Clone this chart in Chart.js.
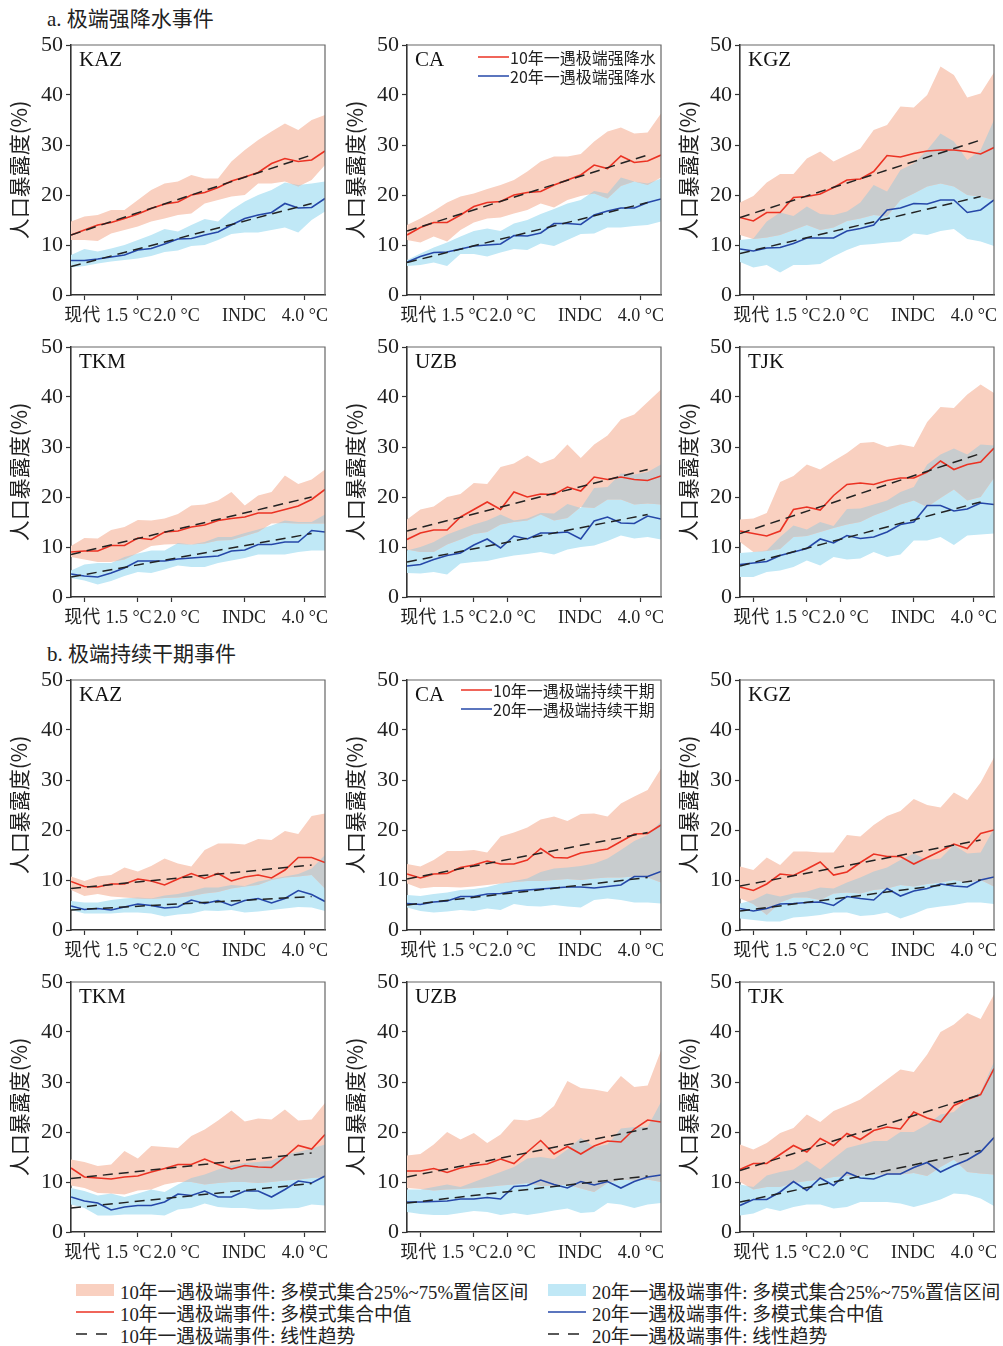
<!DOCTYPE html>
<html>
<head>
<meta charset="utf-8">
<script src="https://cdn.jsdelivr.net/npm/chart.js@4.4.1/dist/chart.umd.min.js"></script>
<style>
  body { margin: 0; background: #fff; width: 1003px; height: 1346px; position: relative; overflow: hidden;
         font-family: 'Liberation Serif', 'Noto Sans CJK SC', serif; color: #222; }
  .sec { position: absolute; left: 47px; font-size: 21px; line-height: 24px; }
  .panel { position: absolute; }
  .leg { position: absolute; height: 22px; display: flex; align-items: center; font-size: 18.8px; white-space: nowrap; }
  .sw { width: 38px; margin-right: 6px; flex: none; }
</style>
</head>
<body>
<div class="sec" style="top:7px">a. 极端强降水事件</div>
<div class="sec" style="top:642px">b. 极端持续干期事件</div>

<div class="leg" style="left:76px;top:1279px"><div class="sw" style="height:12px;background:#f9d0c0"></div>10年一遇极端事件: 多模式集合25%~75%置信区间</div>
<div class="leg" style="left:76px;top:1301px"><svg class="sw" width="38" height="4"><line x1="0" y1="2" x2="38" y2="2" stroke="#eb3223" stroke-width="1.6"/></svg>10年一遇极端事件: 多模式集合中值</div>
<div class="leg" style="left:76px;top:1323px"><svg class="sw" width="38" height="4"><line x1="0" y1="2" x2="38" y2="2" stroke="#222" stroke-width="1.6" stroke-dasharray="11,9"/></svg>10年一遇极端事件: 线性趋势</div>
<div class="leg" style="left:548px;top:1279px"><div class="sw" style="height:12px;background:#c0e8f6"></div>20年一遇极端事件: 多模式集合25%~75%置信区间</div>
<div class="leg" style="left:548px;top:1301px"><svg class="sw" width="38" height="4"><line x1="0" y1="2" x2="38" y2="2" stroke="#2547a8" stroke-width="1.6"/></svg>20年一遇极端事件: 多模式集合中值</div>
<div class="leg" style="left:548px;top:1323px"><svg class="sw" width="38" height="4"><line x1="0" y1="2" x2="38" y2="2" stroke="#222" stroke-width="1.6" stroke-dasharray="11,9"/></svg>20年一遇极端事件: 线性趋势</div>

<script>
// x positions (warming level) of the 20 ensemble points, and the labelled ticks
const xVals = [0.5, 0.7, 0.9, 1.1, 1.3, 1.5, 1.7, 1.9, 2.1, 2.3, 2.5, 2.7, 2.9, 3.1, 3.3, 3.5, 3.7, 3.9, 4.1, 4.3];
const trendX = [0.5, 4.1];
const tickVals = [0.7, 1.5, 2.0, 3.1, 4.0];
const tickNames = ['现代', '1.5 °C', '2.0 °C', 'INDC', '4.0 °C'];
const tickLabelAt = [0.67, 1.36, 2.08, 3.09, 4.0];   // label centres are nudged off the tick marks in the original
const yTicks = [0, 10, 20, 30, 40, 50];
const yMinor = [0, 5, 10, 15, 20, 25, 30, 35, 40, 45, 50];

// ---- a. extreme heavy precipitation ----
const kazA_redMed = [12, 13, 14, 14.5, 15.3, 16.2, 17.3, 18.2, 18.6, 20, 20.5, 21.5, 22.8, 23.6, 24.5, 26.3, 27.3, 26.7, 27, 28.8];
const kazA_redHi = [14.7, 15.7, 16, 17, 17, 19, 21, 22.3, 22.7, 24, 23.3, 23.3, 26.7, 29, 31, 32.7, 34.3, 33, 35, 36];
const kazA_redLo = [11, 11, 10.8, 12.3, 13, 13.7, 14.7, 15.3, 16, 16.3, 18.3, 19, 19.7, 20, 22.3, 22.3, 22.7, 21.7, 23, 26];
const kazA_blueMed = [6.9, 6.9, 7.2, 7.6, 8, 9, 9.3, 10.2, 11.2, 11.3, 12, 12.6, 14, 15.3, 16, 16.5, 18.3, 17.4, 17.5, 19.3];
const kazA_blueHi = [8, 9.2, 8.7, 9.3, 10, 11, 12, 13.2, 12.7, 14, 15.2, 14.7, 17, 18.7, 20, 21, 22.5, 22, 22.3, 22.7];
const kazA_blueLo = [5.5, 5.8, 6.3, 6.7, 7, 7.3, 7.8, 8.6, 8.9, 9.8, 10, 11, 12.2, 12.5, 12.5, 13, 13.5, 12.5, 15, 16.7];
const kazA_trend10 = [12, 28];
const kazA_trend20 = [5.7, 18.3];

const caA_redMed = [12, 13.5, 14.5, 14.5, 16, 17.7, 18.5, 18.7, 20, 20.5, 20.7, 22, 23, 24, 26, 25.3, 27.8, 26.5, 26.8, 28];
const caA_redHi = [14, 15.3, 16.8, 18.5, 19.7, 20.3, 21.2, 22, 23, 24.7, 26.7, 27.7, 27.7, 28.2, 30.7, 32.7, 33.5, 32.3, 32.5, 36.3];
const caA_redLo = [11, 10.5, 11.7, 10.7, 13, 14.5, 15.3, 15.5, 16.3, 17, 18.3, 17.5, 19, 19.8, 20.3, 19.3, 21.8, 22.7, 22, 23.5];
const caA_blueMed = [6.6, 7.7, 8.5, 8.6, 9.2, 9.8, 10, 10.2, 11.9, 11.8, 12.4, 14.3, 14.3, 14.1, 16, 16.8, 17.4, 17.4, 18.5, 19.2];
const caA_blueHi = [7, 8.3, 9.5, 10.5, 11.7, 12.8, 13.3, 12.8, 14.3, 15, 16.2, 17.2, 18.3, 19, 20.8, 20.3, 23.5, 22.7, 22.3, 23.3];
const caA_blueLo = [5.8, 6, 6.5, 5.8, 8.2, 8.2, 7.7, 8.5, 9.2, 9, 10.3, 9.8, 11, 12.2, 12.3, 13.5, 13.5, 13.8, 14, 14.7];
const caA_trend10 = [12.8, 28];
const caA_trend20 = [6.5, 18.5];

const kgzA_redMed = [15.5, 14.8, 16.5, 16.5, 19.5, 19.7, 20.2, 21.5, 23, 23.2, 24.7, 27.9, 27.6, 28.3, 28.8, 29, 29, 28.7, 28.2, 29.5];
const kgzA_redHi = [18.5, 19.8, 22.5, 24.2, 24.2, 27.3, 28.7, 26.7, 28, 29.3, 33, 34, 37.7, 37.5, 40, 45.7, 44, 39.5, 40.3, 44.5];
const kgzA_redLo = [12, 11.2, 11.5, 12, 13, 14, 13, 13.5, 14.8, 15.3, 16, 15.7, 19, 20.3, 21.7, 22.3, 21.7, 20, 19.7, 19];
const kgzA_blueMed = [9.2, 8.8, 9.4, 9.5, 10.3, 11.4, 11.4, 11.4, 12.8, 13.3, 14, 17, 17.4, 18.3, 18.2, 19, 19, 16.5, 17, 19];
const kgzA_blueHi = [11, 11.3, 14.7, 16.5, 15.8, 17.7, 16.2, 16, 16.7, 18.5, 22, 20.7, 25, 26.3, 29, 32.3, 30.7, 27, 29, 35];
const kgzA_blueLo = [6.6, 5.5, 6, 4.5, 6, 6, 6.2, 7.7, 9, 10, 10.2, 10.5, 10.7, 12.3, 12, 12.8, 13.2, 11.2, 10.7, 9.8];
const kgzA_trend10 = [15.5, 31];
const kgzA_trend20 = [8.3, 19.7];

const tkmA_redMed = [9, 9.2, 9.2, 10.3, 10.3, 11.8, 11.5, 13, 13.2, 14, 14.4, 15.3, 15.7, 16, 16.8, 16.8, 17.5, 18.2, 19.5, 21.5];
const tkmA_redHi = [10.2, 11.8, 11.7, 13.4, 14, 15.4, 15.3, 15.7, 16.6, 18.3, 18.5, 19.3, 21, 18.3, 20.3, 21, 24.3, 22.6, 23.5, 25.5];
const tkmA_redLo = [8, 7.5, 7, 7, 7.5, 8.8, 10.2, 10.5, 10.6, 10.5, 10.7, 11.3, 11.4, 12.2, 13, 14.7, 14.8, 14.7, 14.7, 14.7];
const tkmA_blueMed = [4.6, 4.2, 4.0, 4.8, 5.8, 7.2, 7.2, 7.2, 7.6, 7.8, 8.0, 8.2, 9.2, 9.4, 10.5, 10.5, 11, 11, 13.3, 13];
const tkmA_blueHi = [5.3, 6.5, 6.8, 6.8, 8, 8.7, 9.3, 9.3, 10.8, 10.5, 11, 12, 12, 12.8, 13.5, 14.3, 15.3, 15, 15, 16.5];
const tkmA_blueLo = [3.8, 3.3, 2.5, 3.2, 4.2, 5, 4.8, 5.5, 6.3, 6, 6, 6.8, 7.3, 7.8, 8.5, 8.5, 8.5, 9, 9.3, 9.3];
const tkmA_trend10 = [8.5, 20];
const tkmA_trend20 = [4, 12.7];

const uzbA_redMed = [11.5, 12.8, 13.4, 13.4, 16, 17.5, 19, 17.5, 21, 20, 20.6, 20.5, 22, 21.2, 24, 23.5, 24, 23.5, 23.3, 24.2];
const uzbA_redHi = [15.5, 17.5, 18.1, 20, 20.6, 22.8, 22.6, 26, 26.7, 28.3, 26.7, 27.7, 30.5, 27.8, 30.5, 32.3, 35.5, 36.5, 39, 41.5];
const uzbA_redLo = [9.5, 9, 9, 10.5, 11.5, 12.6, 13, 14.5, 15, 15.3, 16.5, 15.3, 15.8, 18, 17.8, 19.5, 19.5, 18.5, 18.7, 18.5];
const uzbA_blueMed = [6.2, 6.5, 7.5, 8.3, 8.8, 10.4, 11.6, 9.8, 12.2, 11.6, 12.8, 12.8, 13, 11.6, 15.2, 16, 14.8, 14.7, 16.2, 15.6];
const uzbA_blueHi = [9.3, 10, 11, 12.5, 13.5, 14.5, 15.3, 16.5, 15.3, 15.7, 16.8, 16.7, 18.6, 17.8, 21.8, 22, 24.7, 24.5, 25, 26.5];
const uzbA_blueLo = [4.8, 4.7, 5, 4.5, 6.7, 7, 7.2, 7.8, 8.3, 8.6, 9, 8.5, 9.5, 10, 10.3, 11.2, 12.3, 11.7, 12, 11.5];
const uzbA_trend10 = [13.2, 25.5];
const uzbA_trend20 = [7, 16.5];

const tjkA_redMed = [13.2, 12.7, 12.2, 13.2, 17.5, 18, 17.4, 20.3, 22.5, 22.8, 22.5, 23.3, 23.8, 23.8, 25, 27.2, 25.5, 26.5, 27, 29.8];
const tjkA_redHi = [15.5, 15.7, 16.8, 23, 24.2, 26.5, 25.5, 27.2, 28.8, 30.8, 31, 30, 30.5, 30, 35, 38, 37.8, 40.5, 42.5, 40.8];
const tjkA_redLo = [11, 9, 9.2, 9.6, 12, 12.2, 13, 13.8, 14.5, 15, 16.3, 17.3, 18.5, 19.3, 18, 19.8, 21.5, 19.3, 20, 23.8];
const tjkA_blueMed = [6.5, 6.8, 7.1, 8.3, 9, 9.7, 11.6, 10.8, 12.3, 11.7, 12, 13, 14.5, 15, 18.3, 18.3, 17.2, 17.6, 18.8, 18.5];
const tjkA_blueHi = [8.8, 9, 9.3, 12, 14.3, 13.5, 15, 14.2, 17.6, 17.7, 18.5, 19.3, 21, 22, 26.5, 28.5, 29.7, 28.5, 30.5, 30.3];
const tjkA_blueLo = [4, 4, 5, 5.3, 6, 7.3, 6.3, 8, 7.5, 7.7, 9, 8, 8.5, 11.3, 11.3, 12, 10.4, 12.3, 12.5, 12.7];
const tjkA_trend10 = [12.7, 28.7];
const tjkA_trend20 = [6.2, 19];

// ---- b. extreme consecutive dry days ----
const kazB_redMed = [9.7, 8.7, 8.6, 9.2, 9.2, 10.2, 9.8, 9.0, 10.2, 11.3, 10.3, 11.3, 9.8, 10.6, 11, 10.4, 12, 14.5, 14.5, 13.5];
const kazB_redHi = [10.7, 9.8, 10.7, 11, 12.5, 11.7, 12.8, 14.3, 13.3, 12.7, 16, 17.3, 17.3, 17.1, 18.2, 18, 19.8, 19.2, 22.8, 23.3];
const kazB_redLo = [8, 6.8, 7.2, 6.7, 6.5, 6.3, 6.2, 6.4, 6.5, 6.8, 7.3, 7.6, 8.3, 8.7, 9, 10, 10.5, 10.7, 11, 8.3];
const kazB_blueMed = [4.8, 4.1, 4.3, 4.0, 4.6, 5.2, 4.9, 4.4, 4.6, 6.0, 5.3, 5.9, 4.9, 5.9, 6.3, 5.4, 6.3, 7.9, 7.1, 5.7];
const kazB_blueHi = [5.8, 5.5, 5.5, 6, 6.3, 6.5, 6.3, 6.9, 7.2, 7.8, 8.5, 8.5, 9, 8.8, 9.7, 10.2, 10.7, 11.2, 12.3, 15];
const kazB_blueLo = [4, 3.3, 3.3, 3.3, 3.5, 3.5, 3.3, 2.7, 3.1, 3.3, 3.9, 3.8, 4, 3.5, 3.7, 4, 4.3, 4.6, 4.5, 3.8];
const kazB_trend10 = [8.3, 13];
const kazB_trend20 = [4, 6.7];

const caB_redMed = [11.2, 10.4, 11.2, 11.3, 12.5, 13, 13.8, 13.2, 13.2, 14, 16.3, 14.5, 14.4, 15.4, 15.8, 16.2, 17.7, 19.2, 19.3, 21];
const caB_redHi = [13.2, 12.7, 14, 15.8, 15.8, 16, 15.5, 18.7, 19.5, 20.5, 22.1, 22.7, 21.8, 23.2, 23.3, 22.7, 25.3, 26.7, 28, 32.3];
const caB_redLo = [9.3, 8.3, 8.6, 8.6, 8.5, 8.7, 9, 9.3, 9.6, 9.8, 9.8, 10, 10.2, 10, 10.3, 10.5, 10.5, 10.7, 10.5, 9.5];
const caB_blueMed = [5.3, 5.1, 5.6, 5.8, 6.7, 6.7, 7.2, 7.3, 7.8, 8, 8.2, 8.4, 8.6, 8.6, 8.4, 8.7, 9, 10.7, 10.7, 11.7];
const caB_blueHi = [7, 6.8, 7.2, 7.5, 8, 8.2, 8.6, 9.3, 9.8, 10.3, 11.6, 12.3, 12.5, 12.8, 13.3, 14.3, 16, 17.8, 19, 21.7];
const caB_blueLo = [4.5, 3.8, 3.5, 3.7, 4, 3.8, 4.3, 4, 5.2, 4.8, 4.7, 5, 4.7, 4.5, 6, 6.3, 6, 5.5, 5.5, 5.3];
const caB_trend10 = [10.2, 19.5];
const caB_trend20 = [5, 10.5];

const kgzB_redMed = [8.6, 7.9, 9.2, 11.2, 10.9, 12.2, 13.6, 11, 11.6, 13.5, 15.2, 14.7, 14.7, 13.2, 14.5, 15.8, 17.2, 16.3, 19.3, 20];
const kgzB_redHi = [12.7, 12, 14.5, 13, 15.7, 15.7, 15.5, 15.5, 19, 18.7, 21, 22.8, 23.8, 26.2, 25, 24.5, 27.5, 26, 29.5, 34.5];
const kgzB_redLo = [6.3, 5.2, 3, 5.5, 6.5, 6.5, 6, 7.3, 7.5, 7.3, 8, 8.3, 9, 8.7, 9.2, 9.5, 10, 9.5, 10, 8.7];
const kgzB_blueMed = [4.3, 3.8, 4.3, 5.2, 5.3, 5.5, 5.6, 4.9, 6.7, 6.3, 6, 8.3, 6.8, 7.8, 8.3, 9.2, 8.8, 8.6, 10, 10.6];
const kgzB_blueHi = [5.3, 6, 7.3, 6.7, 7.3, 7.7, 8.5, 8.3, 9.5, 10.5, 11.7, 12.5, 14, 15.3, 14, 14.3, 17, 15.3, 15.5, 20.3];
const kgzB_blueLo = [2.3, 2, 1.7, 1.7, 2.5, 2.7, 3, 3.5, 3.5, 2.8, 3, 3.5, 2.3, 3.2, 4.3, 4.7, 5, 5.5, 5.5, 5.2];
const kgzB_trend10 = [8.8, 18];
const kgzB_trend20 = [3.8, 10];

const tkmB_redMed = [12.8, 11, 10.8, 10.6, 11, 11.2, 12, 12.7, 13.5, 13.5, 14.6, 13.5, 12.6, 13.3, 13, 12.9, 15, 17.3, 16.6, 19.5];
const tkmB_redHi = [14.5, 14, 13.2, 13.5, 16.2, 14.7, 17.2, 17, 16.8, 19.2, 20.5, 22.3, 24.3, 22.1, 22.7, 22.5, 24.5, 22.3, 22.5, 25.8];
const tkmB_redLo = [9.3, 8.8, 7.8, 7.7, 7.5, 8.3, 8.5, 9.5, 10, 10, 9.5, 9.8, 10, 10, 9.8, 10, 10.3, 10.5, 10.8, 11];
const tkmB_blueMed = [7, 6.2, 5.8, 4.4, 5, 5.3, 5.3, 6, 7.6, 7.3, 8.2, 7, 7, 8.2, 8.2, 7, 8.5, 10.2, 9.8, 11.2];
const tkmB_blueHi = [8.8, 8.2, 7.3, 7.7, 7, 7.7, 8.5, 8, 9.5, 10.8, 11.5, 12.5, 13.3, 13.8, 14, 14.3, 15.5, 16, 16.7, 17.5];
const tkmB_blueLo = [5.5, 4.8, 3.3, 3.3, 3.5, 3.5, 3.5, 3.3, 4.5, 4.8, 5.7, 5, 4.8, 4.8, 4.5, 4.5, 4.7, 4.8, 5.5, 5.3];
const tkmB_trend10 = [10.7, 15.8];
const tkmB_trend20 = [4.8, 9.7];

const uzbB_redMed = [12.2, 12.2, 12.7, 11.9, 12.8, 13.3, 13.6, 14.6, 13.7, 16, 18.3, 15.6, 17.1, 15.6, 17.2, 18.2, 18, 20.6, 22.4, 22];
const uzbB_redHi = [15.3, 15.6, 17.5, 20, 18.5, 19.8, 17.8, 19.5, 22.5, 22.3, 23, 25.2, 30.2, 28.8, 28.5, 28, 31.2, 29, 29.3, 36.3];
const uzbB_redLo = [8.8, 8.6, 8.3, 8.5, 8.6, 8.8, 9, 9.3, 9.5, 9.8, 9.2, 9.3, 9.5, 8.7, 8, 9.8, 10.5, 10.3, 10.5, 10];
const uzbB_blueMed = [6, 6, 6.1, 6.2, 6.6, 6.6, 6.9, 6.6, 9.1, 9.3, 10.4, 9.5, 8.8, 10.1, 9.4, 10.1, 8.8, 10.1, 11, 11.4];
const uzbB_blueHi = [8.5, 8.5, 9, 9.5, 9, 10, 11, 12, 13, 14.7, 15, 14.6, 16.5, 18.8, 17, 17.5, 20.7, 21, 21, 26];
const uzbB_blueLo = [4, 3.6, 3.4, 3.4, 3.8, 4.2, 4, 3.4, 3.8, 3.4, 3.8, 4.3, 4.7, 3.8, 4, 5.8, 5.5, 4.8, 5.5, 5.8];
const uzbB_trend10 = [11, 20.7];
const uzbB_trend20 = [5.8, 11.2];

const tjkB_redMed = [12.5, 13.7, 13.7, 15.5, 17.3, 16, 18.7, 17.3, 19.7, 18.5, 20.3, 21, 20.6, 24, 22.8, 22, 25.3, 26.5, 27.5, 32.7];
const tjkB_redHi = [17.5, 16.5, 17.8, 19.8, 20.8, 23.5, 22, 24.2, 25.3, 26.5, 28.5, 30.5, 32.5, 32, 35.5, 40, 41.5, 43.8, 42.6, 47.5];
const tjkB_redLo = [10, 8.5, 9, 9, 9.8, 10.2, 10.5, 11, 11.2, 11.3, 11.5, 11.5, 11.5, 11.8, 11.2, 13, 14.5, 12, 11.7, 11.5];
const tjkB_blueMed = [5.3, 6.5, 6.5, 8, 10.1, 8.3, 10.8, 9.3, 11.9, 10.8, 10.6, 11.6, 11.6, 12.9, 13.9, 12, 13.3, 14.4, 16, 18.9];
const tjkB_blueHi = [9.5, 9, 11.3, 12, 12.5, 14.3, 12.5, 14.7, 16.8, 17.5, 18.2, 18.2, 20, 20, 21.5, 23.5, 24, 26.5, 28, 34];
const tjkB_blueLo = [3.3, 3.7, 4.8, 4.2, 5, 5.5, 5.5, 4.7, 5, 6, 6, 6, 5.7, 5, 5.7, 6.5, 7.7, 7.5, 6.7, 5.2];
const tjkB_trend10 = [12.3, 27.5];
const tjkB_trend20 = [6, 16.3];

// colours
const SALMON = '#f9d0c0';
const SKY = '#c0e8f6';
const GREY = '#c8ccce';
const RED = '#eb3223';
const BLUE = '#2547a8';
const DASH = '#222';

const SERIF = "'Liberation Serif', 'Noto Sans CJK SC', serif";
const CJK = "'Noto Sans CJK SC', sans-serif";

// plot-area geometry on the page
const colLeft = [71, 407, 740];
const rowTop = [45, 347, 680, 982];
const PW = 254, PH = 250;
const AXW = 70, AXH = 40, PADT = 14, PADR = 10;

const panels = [
  { name: 'KAZ', col: 0, row: 0, rm: kazA_redMed, rh: kazA_redHi, rl: kazA_redLo, bm: kazA_blueMed, bh: kazA_blueHi, bl: kazA_blueLo, t10: kazA_trend10, t20: kazA_trend20 },
  { name: 'CA', col: 1, row: 0, rm: caA_redMed, rh: caA_redHi, rl: caA_redLo, bm: caA_blueMed, bh: caA_blueHi, bl: caA_blueLo, t10: caA_trend10, t20: caA_trend20,
    legend: ['10年一遇极端强降水', '20年一遇极端强降水'], legX: 71, legY: 12 },
  { name: 'KGZ', col: 2, row: 0, rm: kgzA_redMed, rh: kgzA_redHi, rl: kgzA_redLo, bm: kgzA_blueMed, bh: kgzA_blueHi, bl: kgzA_blueLo, t10: kgzA_trend10, t20: kgzA_trend20 },
  { name: 'TKM', col: 0, row: 1, rm: tkmA_redMed, rh: tkmA_redHi, rl: tkmA_redLo, bm: tkmA_blueMed, bh: tkmA_blueHi, bl: tkmA_blueLo, t10: tkmA_trend10, t20: tkmA_trend20 },
  { name: 'UZB', col: 1, row: 1, rm: uzbA_redMed, rh: uzbA_redHi, rl: uzbA_redLo, bm: uzbA_blueMed, bh: uzbA_blueHi, bl: uzbA_blueLo, t10: uzbA_trend10, t20: uzbA_trend20 },
  { name: 'TJK', col: 2, row: 1, rm: tjkA_redMed, rh: tjkA_redHi, rl: tjkA_redLo, bm: tjkA_blueMed, bh: tjkA_blueHi, bl: tjkA_blueLo, t10: tjkA_trend10, t20: tjkA_trend20 },
  { name: 'KAZ', col: 0, row: 2, rm: kazB_redMed, rh: kazB_redHi, rl: kazB_redLo, bm: kazB_blueMed, bh: kazB_blueHi, bl: kazB_blueLo, t10: kazB_trend10, t20: kazB_trend20 },
  { name: 'CA', col: 1, row: 2, rm: caB_redMed, rh: caB_redHi, rl: caB_redLo, bm: caB_blueMed, bh: caB_blueHi, bl: caB_blueLo, t10: caB_trend10, t20: caB_trend20,
    legend: ['10年一遇极端持续干期', '20年一遇极端持续干期'], legX: 54, legY: 10 },
  { name: 'KGZ', col: 2, row: 2, rm: kgzB_redMed, rh: kgzB_redHi, rl: kgzB_redLo, bm: kgzB_blueMed, bh: kgzB_blueHi, bl: kgzB_blueLo, t10: kgzB_trend10, t20: kgzB_trend20 },
  { name: 'TKM', col: 0, row: 3, rm: tkmB_redMed, rh: tkmB_redHi, rl: tkmB_redLo, bm: tkmB_blueMed, bh: tkmB_blueHi, bl: tkmB_blueLo, t10: tkmB_trend10, t20: tkmB_trend20 },
  { name: 'UZB', col: 1, row: 3, rm: uzbB_redMed, rh: uzbB_redHi, rl: uzbB_redLo, bm: uzbB_blueMed, bh: uzbB_blueHi, bl: uzbB_blueLo, t10: uzbB_trend10, t20: uzbB_trend20 },
  { name: 'TJK', col: 2, row: 3, rm: tjkB_redMed, rh: tjkB_redHi, rl: tjkB_redLo, bm: tjkB_blueMed, bh: tjkB_blueHi, bl: tjkB_blueLo, t10: tjkB_trend10, t20: tjkB_trend20 },
];

function pts(arr) { return arr.map((v, i) => ({ x: xVals[i], y: v })); }
function trendPts(t) { return [{ x: trendX[0], y: t[0] }, { x: trendX[1], y: t[1] }]; }

function makePanel(p) {
  const wrap = document.createElement('div');
  wrap.className = 'panel';
  const w = AXW + PW + PADR, h = PADT + PH + AXH;
  wrap.style.left = (colLeft[p.col] - AXW) + 'px';
  wrap.style.top = (rowTop[p.row] - PADT) + 'px';
  const cv = document.createElement('canvas');
  cv.width = w; cv.height = h;
  wrap.appendChild(cv);
  document.body.appendChild(wrap);

  // band path (upper edge forward, lower edge back) in pixel space
  function bandPath(ctx, chart, hi, lo) {
    const xs = chart.scales.x, ys = chart.scales.y;
    ctx.beginPath();
    hi.forEach((v, i) => {
      const px = xs.getPixelForValue(xVals[i]), py = ys.getPixelForValue(v);
      if (i === 0) ctx.moveTo(px, py); else ctx.lineTo(px, py);
    });
    for (let i = lo.length - 1; i >= 0; i--) ctx.lineTo(xs.getPixelForValue(xVals[i]), ys.getPixelForValue(lo[i]));
    ctx.closePath();
  }

  const decor = {
    id: 'decor',
    // grey where the two 25-75% bands overlap, drawn right after the last band
    afterDatasetDraw(chart, args) {
      if (args.index !== 0) return;
      const ctx = chart.ctx, a = chart.chartArea;
      ctx.save();
      ctx.beginPath();
      ctx.rect(a.left, a.top, a.right - a.left, a.bottom - a.top);
      ctx.clip();
      bandPath(ctx, chart, p.rh, p.rl);
      ctx.clip();
      bandPath(ctx, chart, p.bh, p.bl);
      ctx.fillStyle = GREY;
      ctx.fill();
      ctx.restore();
    },
    afterDraw(chart) {
      const ctx = chart.ctx, a = chart.chartArea;
      ctx.save();
      // top and right frame
      ctx.strokeStyle = '#666';
      ctx.lineWidth = 1.2;
      ctx.beginPath();
      ctx.moveTo(a.left, a.top); ctx.lineTo(a.right, a.top); ctx.lineTo(a.right, a.bottom);
      ctx.stroke();
      // x labels
      ctx.fillStyle = '#222';
      ctx.font = '18px ' + SERIF;
      ctx.textAlign = 'center';
      ctx.textBaseline = 'middle';
      tickNames.forEach((t, i) => ctx.fillText(t, chart.scales.x.getPixelForValue(tickLabelAt[i]), a.bottom + 21));
      // panel name
      ctx.fillStyle = '#111';
      ctx.font = '21px ' + SERIF;
      ctx.textAlign = 'left';
      ctx.textBaseline = 'alphabetic';
      ctx.fillText(p.name, a.left + 8, a.top + 21);
      // inner legend
      if (p.legend) {
        const cols = [RED, BLUE];
        ctx.font = '16px ' + CJK;
        ctx.textBaseline = 'middle';
        p.legend.forEach((txt, i) => {
          const y = a.top + p.legY + i * 19;
          ctx.strokeStyle = cols[i];
          ctx.lineWidth = 1.5;
          ctx.beginPath();
          ctx.moveTo(a.left + p.legX, y); ctx.lineTo(a.left + p.legX + 31, y);
          ctx.stroke();
          ctx.fillStyle = '#222';
          ctx.fillText(txt, a.left + p.legX + 32, y + 1);
        });
      }
      ctx.restore();
    }
  };

  const line = (data, color, extra) => Object.assign({
    data: data, borderColor: color, borderWidth: 1.6, pointRadius: 0, tension: 0, fill: false
  }, extra || {});

  new Chart(cv, {
    type: 'line',
    data: {
      datasets: [
        line(pts(p.rl), 'rgba(0,0,0,0)', { borderWidth: 0, order: 3 }),
        line(pts(p.rh), 'rgba(0,0,0,0)', { borderWidth: 0, order: 3, fill: { target: 0 }, backgroundColor: SALMON }),
        line(pts(p.bl), 'rgba(0,0,0,0)', { borderWidth: 0, order: 3 }),
        line(pts(p.bh), 'rgba(0,0,0,0)', { borderWidth: 0, order: 3, fill: { target: 2 }, backgroundColor: SKY }),
        line(pts(p.rm), RED, { order: 2 }),
        line(pts(p.bm), BLUE, { order: 2 }),
        line(trendPts(p.t10), DASH, { order: 1, borderDash: [10, 6], borderWidth: 1.5 }),
        line(trendPts(p.t20), DASH, { order: 1, borderDash: [10, 6], borderWidth: 1.5 }),
      ]
    },
    options: {
      responsive: false,
      animation: false,
      events: [],
      layout: { padding: { top: PADT, right: PADR, left: 0, bottom: 0 } },
      plugins: { legend: { display: false }, tooltip: { enabled: false } },
      scales: {
        x: {
          type: 'linear', min: 0.5, max: 4.3,
          afterBuildTicks: (ax) => { ax.ticks = tickVals.map(v => ({ value: v })); },
          afterFit: (ax) => { ax.height = AXH; ax.paddingLeft = 0; ax.paddingRight = 0; },
          ticks: { autoSkip: false, maxRotation: 0, callback: () => '' },
          grid: { drawOnChartArea: false, tickLength: 5, color: '#333', tickWidth: 1.2 },
          border: { color: '#333', width: 1.6 }
        },
        y: {
          min: 0, max: 50,
          afterBuildTicks: (ax) => { ax.ticks = yMinor.map(v => ({ value: v })); },
          afterFit: (ax) => { ax.width = AXW; ax.paddingTop = 0; ax.paddingBottom = 0; },
          ticks: { padding: 3, color: '#222', font: { family: SERIF, size: 22 },
                   callback: (v) => yTicks.includes(v) ? String(v) : '' },
          grid: { drawOnChartArea: false, tickLength: 5, color: '#333', tickWidth: 1.2 },
          border: { color: '#333', width: 1.6 },
          title: { display: true, text: '人口暴露度(%)', color: '#222',
                   font: { family: CJK, size: 21 }, padding: { top: 5, bottom: 0 } }
        }
      }
    },
    plugins: [decor]
  });
}

panels.forEach(makePanel);
</script>
</body>
</html>
